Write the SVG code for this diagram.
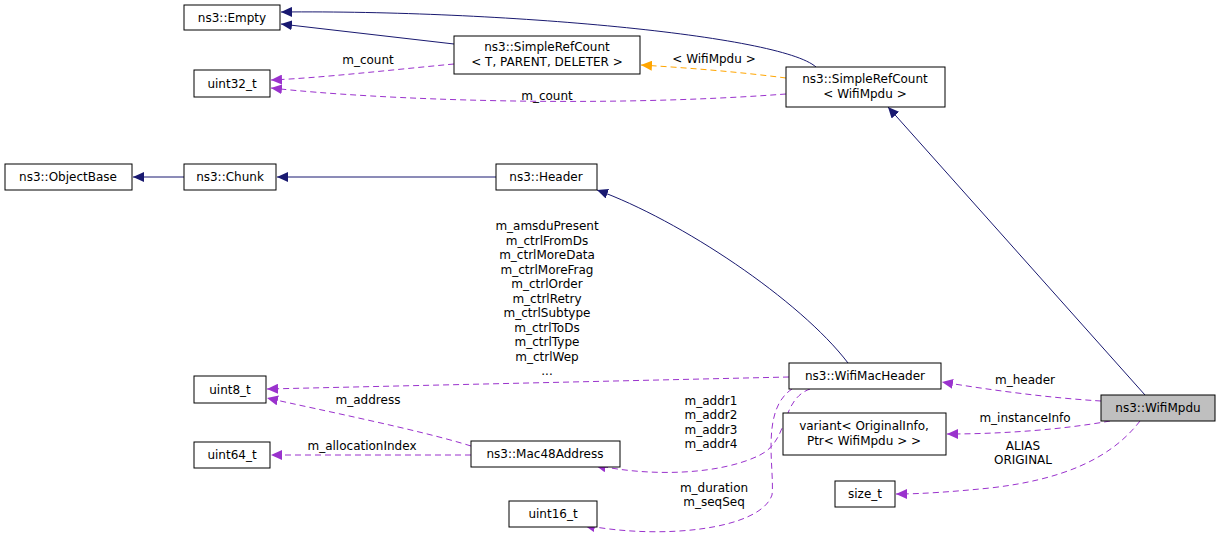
<svg xmlns="http://www.w3.org/2000/svg" width="1221" height="544" viewBox="0 0 1221 544">
<defs>
<style>
text{font-family:"DejaVu Sans",sans-serif;font-size:12px;fill:#000}
.n rect{fill:#fff;stroke:#000;stroke-width:1}
.c text{text-anchor:middle}
.i{fill:none;stroke:#191970;stroke-width:1}
.u{fill:none;stroke:#9a32cd;stroke-width:1;stroke-dasharray:6,4}
.t{fill:none;stroke:#ffa500;stroke-width:1;stroke-dasharray:6,4}
</style>
<marker id="ai" markerWidth="12" markerHeight="10" refX="11" refY="5" orient="auto" markerUnits="userSpaceOnUse"><path d="M0,0L11,5L0,10z" fill="#191970"/></marker>
<marker id="au" markerWidth="12" markerHeight="10" refX="11" refY="5" orient="auto" markerUnits="userSpaceOnUse"><path d="M0,0L11,5L0,10z" fill="#9a32cd"/></marker>
<marker id="at" markerWidth="12" markerHeight="10" refX="11" refY="5" orient="auto" markerUnits="userSpaceOnUse"><path d="M0,0L11,5L0,10z" fill="#ffa500"/></marker>
</defs>
<rect width="1221" height="544" fill="#fff"/>
<g id="connectors" class="c">
<path class="i" marker-end="url(#ai)" d="M816,67C780,35 500,10 281,12"/>
<path class="i" marker-end="url(#ai)" d="M454,44L281,24"/>
<path class="u" marker-end="url(#au)" d="M454,64C390,70 320,78 271,80"/>
<text x="368" y="64">m_count</text>
<path class="u" marker-end="url(#au)" d="M786,94C600,108 380,100 271,88"/>
<text x="547" y="100">m_count</text>
<path class="t" marker-end="url(#at)" d="M786,78C740,72 690,68 641,65"/>
<text x="714" y="63">&lt; WifiMpdu &gt;</text>
<path class="i" marker-end="url(#ai)" d="M1145,395L888,107"/>
<path class="i" marker-end="url(#ai)" d="M184,177L133,177"/>
<path class="i" marker-end="url(#ai)" d="M496,177L277,177"/>
<path class="i" marker-end="url(#ai)" d="M848,363C800,300 680,220 597,190"/>
<path class="u" marker-end="url(#au)" d="M789,377L267,389"/>
<text x="547" y="230">m_amsduPresent</text><text x="547" y="245">m_ctrlFromDs</text><text x="547" y="259">m_ctrlMoreData</text><text x="547" y="274">m_ctrlMoreFrag</text><text x="547" y="288">m_ctrlOrder</text><text x="547" y="303">m_ctrlRetry</text><text x="547" y="317">m_ctrlSubtype</text><text x="547" y="332">m_ctrlToDs</text><text x="547" y="346">m_ctrlType</text><text x="547" y="361">m_ctrlWep</text><text x="547" y="375">...</text>
<path class="u" marker-end="url(#au)" d="M471,446C420,430 320,410 267,398"/>
<text x="368" y="404">m_address</text>
<path class="u" marker-end="url(#au)" d="M471,455L271,455"/>
<text x="362" y="450">m_allocationIndex</text>
<path class="u" marker-end="url(#au)" d="M810,389C780,400 790,440 760,455C720,475 650,477 595,465"/>
<text x="711" y="405">m_addr1</text><text x="711" y="419">m_addr2</text><text x="711" y="434">m_addr3</text><text x="711" y="448">m_addr4</text>
<path class="u" marker-end="url(#au)" d="M792,389C760,410 775,470 772,495C760,530 660,540 584,525"/>
<text x="714" y="492">m_duration</text><text x="714" y="506">m_seqSeq</text>
<path class="u" marker-end="url(#au)" d="M1101,401C1050,398 990,390 942,382"/>
<text x="1025" y="384">m_header</text>
<path class="u" marker-end="url(#au)" d="M1110,421C1060,430 1000,434 947,434"/>
<text x="1025" y="422">m_instanceInfo</text>
<path class="u" marker-end="url(#au)" d="M1140,421C1110,460 1060,480 990,488C950,492 920,494 896,494"/>
<text x="1023" y="450">ALIAS</text><text x="1023" y="464">ORIGINAL</text>
</g>
<g id="empty" class="n c"><rect x="184" y="5" width="96" height="25"/><text x="232" y="22">ns3::Empty</text></g>
<g id="srcT" class="n c"><rect x="454" y="36" width="186" height="38"/><text x="547" y="51">ns3::SimpleRefCount</text><text x="547" y="66">&lt; T, PARENT, DELETER &gt;</text></g>
<g id="uint32" class="n c"><rect x="194" y="70" width="76" height="27"/><text x="232" y="88">uint32_t</text></g>
<g id="srcW" class="n c"><rect x="786" y="67" width="159" height="40"/><text x="865" y="83">ns3::SimpleRefCount</text><text x="865" y="98">&lt; WifiMpdu &gt;</text></g>
<g id="objectbase" class="n c"><rect x="5" y="164" width="127" height="26"/><text x="68" y="181">ns3::ObjectBase</text></g>
<g id="chunk" class="n c"><rect x="184" y="164" width="92" height="26"/><text x="230" y="181">ns3::Chunk</text></g>
<g id="header" class="n c"><rect x="496" y="164" width="101" height="26"/><text x="546" y="181">ns3::Header</text></g>
<g id="wifimacheader" class="n c"><rect x="789" y="363" width="152" height="26"/><text x="865" y="380">ns3::WifiMacHeader</text></g>
<g id="uint8" class="n c"><rect x="194" y="376" width="72" height="27"/><text x="230" y="394">uint8_t</text></g>
<g id="wifimpdu" class="n c"><rect x="1101" y="395" width="114" height="26" style="fill:#bfbfbf"/><text x="1158" y="412">ns3::WifiMpdu</text></g>
<g id="variant" class="n c"><rect x="783" y="413" width="163" height="42"/><text x="864" y="430">variant&lt; OriginalInfo,</text><text x="864" y="445">Ptr&lt; WifiMpdu &gt; &gt;</text></g>
<g id="uint64" class="n c"><rect x="194" y="442" width="76" height="26"/><text x="232" y="459">uint64_t</text></g>
<g id="mac48" class="n c"><rect x="471" y="441" width="149" height="26"/><text x="545" y="458">ns3::Mac48Address</text></g>
<g id="sizet" class="n c"><rect x="835" y="481" width="60" height="26"/><text x="865" y="498">size_t</text></g>
<g id="uint16" class="n c"><rect x="509" y="501" width="88" height="26"/><text x="553" y="518">uint16_t</text></g>
</svg>
